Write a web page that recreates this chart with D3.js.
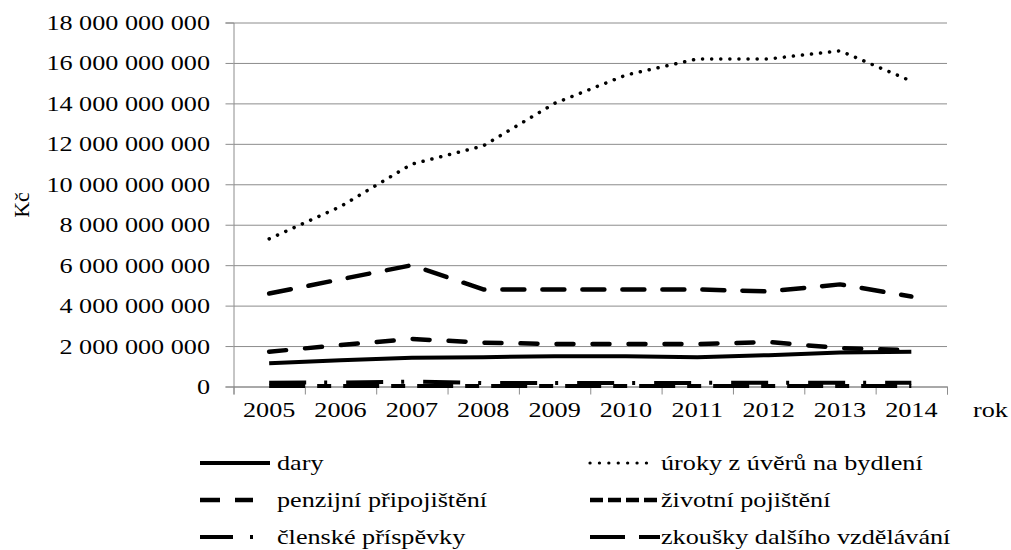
<!DOCTYPE html>
<html>
<head>
<meta charset="utf-8">
<script src="https://cdn.jsdelivr.net/npm/d3@7"></script>
</head>
<body style="margin:0">
<div id="chart"></div>
<script>
// data (Kč)
var years = ["2005", "2006", "2007", "2008", "2009", "2010", "2011", "2012", "2013", "2014"];
var dary = [1.15e9, 1.3e9, 1.42e9, 1.45e9, 1.5e9, 1.5e9, 1.45e9, 1.55e9, 1.68e9, 1.72e9];
var uroky = [7.3e9, 8.9e9, 11.0e9, 11.9e9, 14.0e9, 15.4e9, 16.2e9, 16.2e9, 16.6e9, 15.1e9];
var penzijni = [4.6e9, 5.3e9, 6.0e9, 4.8e9, 4.8e9, 4.8e9, 4.8e9, 4.7e9, 5.05e9, 4.45e9];
var zivotni = [1.72e9, 2.05e9, 2.35e9, 2.17e9, 2.1e9, 2.1e9, 2.1e9, 2.2e9, 1.9e9, 1.8e9];
var clenske = [0.19e9, 0.2e9, 0.24e9, 0.17e9, 0.17e9, 0.17e9, 0.18e9, 0.18e9, 0.19e9, 0.19e9];
var zkousky = [0.02e9, 0.02e9, 0.03e9, 0.02e9, 0.02e9, 0.02e9, 0.02e9, 0.02e9, 0.02e9, 0.02e9];
var yTicks = [0, 2e9, 4e9, 6e9, 8e9, 10e9, 12e9, 14e9, 16e9, 18e9];

// text in the picture is wider than the font
var SX = 1.19;

function serif(sel) {
    sel.style("font-family", '"Liberation Serif"').style("font-size", "22px").style("fill", "#000");
}
// stretch each text horizontally
function widen(sel) {
    sel.each(function () {
        var len = this.getComputedTextLength();
        d3.select(this)
            .attr("textLength", len * SX)
            .attr("lengthAdjust", "spacingAndGlyphs");
    });
}

var svgWidth = 1011, svgHeight = 550;
var margin = { top: 22.5, left: 233.5, right: 64, bottom: 163.5 };
var width = svgWidth - margin.left - margin.right;
var height = svgHeight - margin.top - margin.bottom;

var svg = d3.select("#chart").append("svg")
    .attr("width", svgWidth)
    .attr("height", svgHeight);

var chartGroup = svg.append("g")
    .attr("transform", `translate(${margin.left}, ${margin.top})`);

var x = d3.scaleBand().domain(years).range([0, width]);
var xEdge = d3.scaleLinear().domain([0, years.length]).range([0, width]);
var y = d3.scaleLinear().domain([0, 18e9]).range([height, 0]);

var fmt = function (v) { return d3.format(",")(v).replace(/,/g, " "); };

// gridlines
chartGroup.append("g")
    .call(d3.axisLeft(y).tickValues(yTicks).tickSize(-width).tickFormat(""))
    .call(g => g.select(".domain").remove())
    .call(g => g.selectAll("line").attr("stroke", "#8c8c8c"));

// y axis
var yAxisG = chartGroup.append("g")
    .call(d3.axisLeft(y).tickValues(yTicks).tickSize(8).tickFormat(fmt));
yAxisG.attr("font-family", null).attr("font-size", null);
yAxisG.select(".domain").attr("stroke", "#8c8c8c");
yAxisG.selectAll("line").attr("stroke", "#8c8c8c");
yAxisG.selectAll("text")
    .call(serif)
    .attr("x", -23.5)
    .call(widen);

// x axis: tick marks at category edges
var xTickG = chartGroup.append("g")
    .attr("transform", `translate(0, ${height})`)
    .call(d3.axisBottom(xEdge).ticks(years.length).tickSize(8).tickFormat(""));
xTickG.select(".domain").attr("stroke", "#8c8c8c");
xTickG.selectAll("line").attr("stroke", "#8c8c8c");

// x axis labels
var xLabG = chartGroup.append("g")
    .attr("transform", `translate(0, ${height})`)
    .call(d3.axisBottom(x).tickSize(0).tickPadding(15));
xLabG.attr("font-family", null).attr("font-size", null);
xLabG.select(".domain").remove();
xLabG.selectAll("text")
    .call(serif)
    .call(widen);

// axis titles
svg.append("text")
    .attr("transform", "translate(29, 205) rotate(-90)")
    .attr("text-anchor", "middle")
    .call(serif)
    .text("Kč");

svg.append("text")
    .attr("x", 973)
    .attr("y", 417)
    .call(serif)
    .text("rok")
    .call(widen);

// series
var series = [
    { name: "úroky z úvěrů na bydlení", values: uroky, dash: "0.1,9", width: 3.5, cap: "round" },
    { name: "penzijní připojištění", values: penzijni, dash: "22,18", width: 4.5, cap: "round" },
    { name: "životní pojištění", values: zivotni, dash: "17,19", width: 4.5, cap: "round" },
    { name: "dary", values: dary, dash: null, width: 4, cap: "butt" },
    { name: "členské příspěvky", values: clenske, dash: "37,18,3,19", width: 4, cap: "butt" },
    { name: "zkoušky dalšího vzdělávání", values: zkousky, dash: "36,12,14,12", width: 4, cap: "butt" }
];

var line = d3.line()
    .x((d, i) => x(years[i]) + x.bandwidth() / 2)
    .y(d => y(d));

chartGroup.selectAll("path.series")
    .data(series)
    .enter()
    .append("path")
    .attr("class", "series")
    .attr("fill", "none")
    .attr("stroke", "#000")
    .attr("stroke-width", d => d.width)
    .attr("stroke-linecap", d => d.cap)
    .attr("stroke-linejoin", "round")
    .attr("stroke-dasharray", d => d.dash)
    .attr("d", d => line(d.values));

//legend
var legendItems = [
    { name: "dary", col: 0, row: 0, dash: null, width: 4, cap: "butt", len: 70 },
    { name: "úroky z úvěrů na bydlení", col: 1, row: 0, dash: "0.1,9.3", width: 3.2, cap: "round", len: 63 },
    { name: "penzijní připojištění", col: 0, row: 1, dash: "20,15", width: 4.5, cap: "butt", len: 53 },
    { name: "životní pojištění", col: 1, row: 1, dash: "13,5", width: 4.5, cap: "butt", len: 72 },
    { name: "členské příspěvky", col: 0, row: 2, dash: "33,17,3,30", width: 4, cap: "butt", len: 56 },
    { name: "zkoušky dalšího vzdělávání", col: 1, row: 2, dash: "35,14,21,20", width: 4, cap: "butt", len: 70 }
];
var colX = [200, 590], colText = [277, 661], rowY = [463, 500, 537];

var legend = svg.selectAll("g.legend")
    .data(legendItems)
    .enter()
    .append("g")
    .attr("class", "legend");

legend.append("line")
    .attr("x1", d => colX[d.col])
    .attr("x2", d => colX[d.col] + d.len)
    .attr("y1", d => rowY[d.row])
    .attr("y2", d => rowY[d.row])
    .attr("stroke", "#000")
    .attr("stroke-width", d => d.width)
    .attr("stroke-linecap", d => d.cap)
    .attr("stroke-dasharray", d => d.dash);

legend.append("text")
    .attr("x", d => colText[d.col])
    .attr("y", d => rowY[d.row] + 7)
    .call(serif)
    .text(d => d.name)
    .call(widen);
</script>
</body>
</html>
